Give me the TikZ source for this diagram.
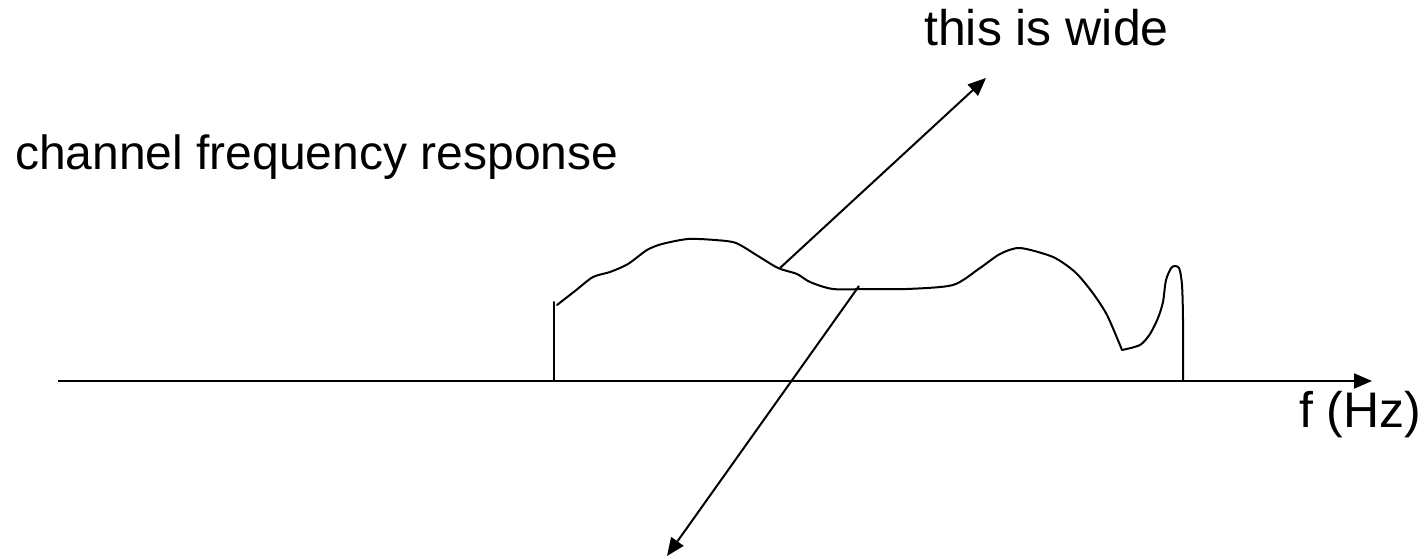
\documentclass[tikz,border=0pt]{standalone}
\usepackage{fontspec}
\setmainfont{Liberation Sans}
\usetikzlibrary{arrows.meta}
\begin{document}
\begin{tikzpicture}[x=1pt,y=-1pt,
  line/.style={line width=2pt,line cap=round,line join=round},
  arr/.style={line width=2pt,-{Triangle[length=18pt,width=15pt]}},
  lbl/.style={inner sep=0pt,anchor=base west,font=\fontsize{50}{54}\selectfont}]
\useasboundingbox (0,0) rectangle (1425,559);
% labels
\node[lbl,font=\fontsize{48}{52}\selectfont] (resp) at (15,170) {channel frequency response};
\node[lbl] (wide) at (924,46) {this is wide};
\node[lbl] (fhz) at (1299,427) {f (Hz)};
% axis
\coordinate (ax0) at (58,381);
\coordinate (ax1) at (1372,381);
\draw[arr] (ax0) -- (ax1);
% response curve
\coordinate (lb) at (554,381);
\coordinate (lt) at (554,302);
\draw[line] (lb) -- (lt);
\draw[line] plot[smooth,tension=0.45] coordinates {
 (557,305) (575,291) (593,277) (610,272) (628,264) (647,250) (662,244)
 (688,239) (715,240) (736,243) (758,256) (778,268) (797,274) (810,282)
 (833,289) (870,289) (907,289) (953,285) (980,268) (1000,254) (1020,248)
 (1053,257) (1075,272) (1092,292) (1107,315) (1122,350)};
\draw[line] plot[smooth,tension=0.45] coordinates {
 (1122,350) (1140,345) (1150,334) (1158,318) (1163,302) (1166,280)
 (1172,267) (1179,268) (1182,285) (1183,320) (1183,381)};
% arrows
\coordinate (a1s) at (780,268);
\coordinate (a1e) at (986,78);
\coordinate (a2s) at (859,286);
\coordinate (a2e) at (667,556);
\draw[arr] (a1s) -- (a1e);
\draw[arr] (a2s) -- (a2e);
\end{tikzpicture}
\end{document}
